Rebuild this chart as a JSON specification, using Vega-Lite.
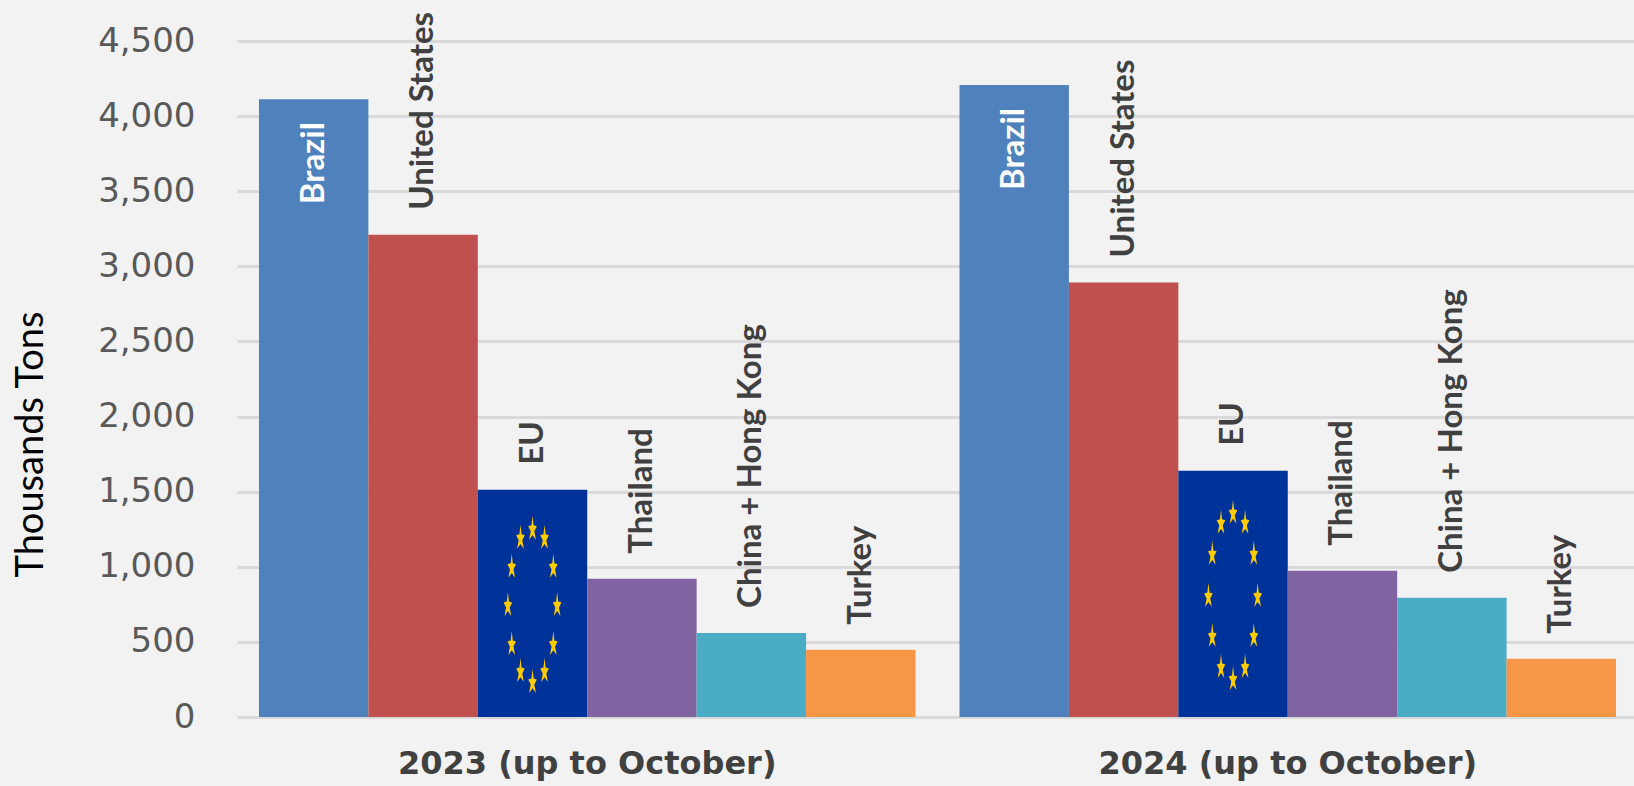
{
"$schema":"https://vega.github.io/schema/vega-lite/v6.json",
"width":1397,"height":676,
"autosize":{"type":"none"},
"padding":{"left":237,"top":41,"right":0,"bottom":69},
"background":"#F2F2F2",
"view":{"stroke":null},
"config":{"axis":{"gridColor":"#D9D9D9","gridWidth":3}},
"datasets":{
"bars":[
{"period":"2023 (up to October)","country":"Brazil","tons":4113},
{"period":"2023 (up to October)","country":"United States","tons":3210},
{"period":"2023 (up to October)","country":"EU","tons":1513},
{"period":"2023 (up to October)","country":"Thailand","tons":920},
{"period":"2023 (up to October)","country":"China + Hong Kong","tons":560},
{"period":"2023 (up to October)","country":"Turkey","tons":447},
{"period":"2024 (up to October)","country":"Brazil","tons":4207},
{"period":"2024 (up to October)","country":"United States","tons":2893},
{"period":"2024 (up to October)","country":"EU","tons":1640},
{"period":"2024 (up to October)","country":"Thailand","tons":973},
{"period":"2024 (up to October)","country":"China + Hong Kong","tons":793},
{"period":"2024 (up to October)","country":"Turkey","tons":387}
],
"stars":[
{"period":"2023 (up to October)","barPos":2.5,"level":1260},
{"period":"2023 (up to October)","barPos":2.39,"level":1200},
{"period":"2023 (up to October)","barPos":2.61,"level":1200},
{"period":"2023 (up to October)","barPos":2.31,"level":1007},
{"period":"2023 (up to October)","barPos":2.69,"level":1007},
{"period":"2023 (up to October)","barPos":2.275,"level":753},
{"period":"2023 (up to October)","barPos":2.725,"level":753},
{"period":"2023 (up to October)","barPos":2.31,"level":493},
{"period":"2023 (up to October)","barPos":2.69,"level":493},
{"period":"2023 (up to October)","barPos":2.39,"level":313},
{"period":"2023 (up to October)","barPos":2.61,"level":313},
{"period":"2023 (up to October)","barPos":2.5,"level":240},
{"period":"2024 (up to October)","barPos":2.5,"level":1367},
{"period":"2024 (up to October)","barPos":2.39,"level":1300},
{"period":"2024 (up to October)","barPos":2.61,"level":1300},
{"period":"2024 (up to October)","barPos":2.31,"level":1093},
{"period":"2024 (up to October)","barPos":2.69,"level":1093},
{"period":"2024 (up to October)","barPos":2.275,"level":813},
{"period":"2024 (up to October)","barPos":2.725,"level":813},
{"period":"2024 (up to October)","barPos":2.31,"level":547},
{"period":"2024 (up to October)","barPos":2.69,"level":547},
{"period":"2024 (up to October)","barPos":2.39,"level":340},
{"period":"2024 (up to October)","barPos":2.61,"level":340},
{"period":"2024 (up to October)","barPos":2.5,"level":260}
]
},
"encoding":{
"x":{"field":"period","type":"nominal","sort":null,
"scale":{"paddingInner":0.0628,"paddingOuter":0.0285,"align":0.55},
"axis":{"title":null,"domain":false,"ticks":false,"labelAngle":0,"labelPadding":31,"labelLimit":0,"labelDx":-2,"labelFont":"DejaVu Sans","labelFontWeight":"bold","labelFontSize":32,"labelColor":"#404040","grid":false}}
},
"layer":[
{"data":{"name":"bars"},"mark":{"type":"bar"},
"encoding":{
"xOffset":{"field":"country","type":"nominal","scale":{"domain":["Brazil","United States","EU","Thailand","China + Hong Kong","Turkey"],"paddingInner":0,"paddingOuter":0}},
"y":{"field":"tons","type":"quantitative","scale":{"domain":[0,4500]},
"axis":{"values":[0,500,1000,1500,2000,2500,3000,3500,4000,4500],"format":",d","grid":true,"domain":false,"ticks":false,
"labelFont":"DejaVu Sans","labelFontSize":34,"labelColor":"#595959","labelPadding":42,
"title":"Thousands Tons","titleFont":"Lato","titleFontSize":38,"titleFontWeight":"normal","titleColor":"#000000","titleX":-187,"titleY":403}},
"color":{"field":"country","type":"nominal","legend":null,
"scale":{"domain":["Brazil","United States","EU","Thailand","China + Hong Kong","Turkey"],"range":["#4F81BD","#C0504D","#003399","#8064A2","#4BACC6","#F79646"]}}
}},
{"data":{"name":"stars"},"mark":{"type":"point","filled":true,"opacity":1,"size":576,"color":"#FFCC00","stroke":null,
"shape":"M0,-1 L.09,-.2 L.36,-.12 L.15,.3 L.28,1 L0,.6 L-.28,1 L-.15,.3 L-.36,-.12 L-.09,-.2 Z"},
"encoding":{
"xOffset":{"field":"barPos","type":"quantitative","scale":{"domain":[0,6]}},
"y":{"field":"level","type":"quantitative"}
}},
{"data":{"name":"bars"},"transform":[{"filter":"datum.country !== 'Brazil'"}],
"mark":{"type":"text","angle":270,"align":"left","baseline":"middle","dx":25,"font":"Lato","fontWeight":"bold","fontSize":33,"color":"#404040"},
"encoding":{
"xOffset":{"field":"country","type":"nominal","scale":{"type":"point","padding":0.5,"domain":["Brazil","United States","EU","Thailand","China + Hong Kong","Turkey"]}},
"y":{"field":"tons","type":"quantitative"},
"text":{"field":"country"}
}},
{"data":{"name":"bars"},"transform":[{"filter":"datum.country === 'Brazil'"}],
"mark":{"type":"text","angle":270,"align":"left","baseline":"middle","dx":-105,"font":"Lato","fontWeight":"bold","fontSize":33,"color":"#FFFFFF"},
"encoding":{
"xOffset":{"field":"country","type":"nominal","scale":{"type":"point","padding":0.5,"domain":["Brazil","United States","EU","Thailand","China + Hong Kong","Turkey"]}},
"y":{"field":"tons","type":"quantitative"},
"text":{"field":"country"}
}}
],
"resolve":{"scale":{"xOffset":"independent"}}
}
